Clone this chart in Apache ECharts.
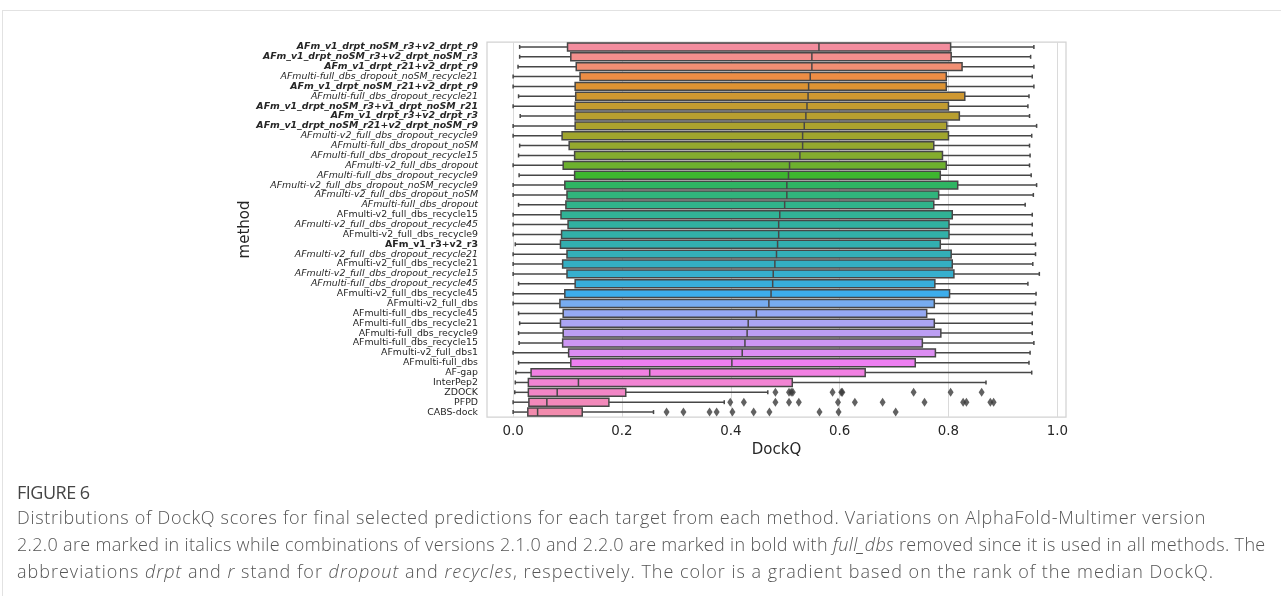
<!DOCTYPE html>
<html>
<head>
<meta charset="utf-8">
<script src="https://cdn.jsdelivr.net/npm/echarts@6/dist/echarts.min.js"></script>
<style>
  body { margin: 0; background: #fff; }
  #wrap { position: relative; width: 1281px; height: 596px; overflow: hidden; }
  #card { position: absolute; left: 2px; top: 10px; width: 1400px; height: 700px; border: 1px solid #e2e2e2; }
  #chart { position: absolute; left: 0; top: 0; width: 1281px; height: 596px; }
  .cap { position: absolute; left: 17px; white-space: nowrap; font-family: 'Open Sans', sans-serif; font-weight: 300; font-size: 18px; color: #555; }
  .fig { color: #444; font-weight: 400; letter-spacing: -0.5px; }
</style>
</head>
<body>
<div id="wrap">
  <div id="card"></div>
  <div id="chart"></div>
  <div class="cap fig" style="top:480px">FIGURE 6</div>
  <div class="cap" style="top:505px; letter-spacing:0.7px">Distributions of DockQ scores for final selected predictions for each target from each method. Variations on AlphaFold-Multimer version</div>
  <div class="cap" style="top:532px; letter-spacing:0.33px">2.2.0 are marked in italics while combinations of versions 2.1.0 and 2.2.0 are marked in bold with <i>full_dbs</i> removed since it is used in all methods. The</div>
  <div class="cap" style="top:559px; letter-spacing:1px">abbreviations <i>drpt</i> and <i>r</i> stand for <i>dropout</i> and <i>recycles</i>, respectively. The color is a gradient based on the rank of the median DockQ.</div>
</div>
<script>
// methods, ordered by median DockQ (top to bottom)
let methods = [
  'AFm_v1_drpt_noSM_r3+v2_drpt_r9',
  'AFm_v1_drpt_noSM_r3+v2_drpt_noSM_r3',
  'AFm_v1_drpt_r21+v2_drpt_r9',
  'AFmulti-full_dbs_dropout_noSM_recycle21',
  'AFm_v1_drpt_noSM_r21+v2_drpt_r9',
  'AFmulti-full_dbs_dropout_recycle21',
  'AFm_v1_drpt_noSM_r3+v1_drpt_noSM_r21',
  'AFm_v1_drpt_r3+v2_drpt_r3',
  'AFm_v1_drpt_noSM_r21+v2_drpt_noSM_r9',
  'AFmulti-v2_full_dbs_dropout_recycle9',
  'AFmulti-full_dbs_dropout_noSM',
  'AFmulti-full_dbs_dropout_recycle15',
  'AFmulti-v2_full_dbs_dropout',
  'AFmulti-full_dbs_dropout_recycle9',
  'AFmulti-v2_full_dbs_dropout_noSM_recycle9',
  'AFmulti-v2_full_dbs_dropout_noSM',
  'AFmulti-full_dbs_dropout',
  'AFmulti-v2_full_dbs_recycle15',
  'AFmulti-v2_full_dbs_dropout_recycle45',
  'AFmulti-v2_full_dbs_recycle9',
  'AFm_v1_r3+v2_r3',
  'AFmulti-v2_full_dbs_dropout_recycle21',
  'AFmulti-v2_full_dbs_recycle21',
  'AFmulti-v2_full_dbs_dropout_recycle15',
  'AFmulti-full_dbs_dropout_recycle45',
  'AFmulti-v2_full_dbs_recycle45',
  'AFmulti-v2_full_dbs',
  'AFmulti-full_dbs_recycle45',
  'AFmulti-full_dbs_recycle21',
  'AFmulti-full_dbs_recycle9',
  'AFmulti-full_dbs_recycle15',
  'AFmulti-v2_full_dbs1',
  'AFmulti-full_dbs',
  'AF-gap',
  'InterPep2',
  'ZDOCK',
  'PFPD',
  'CABS-dock'
];

let whiskerLow = [0.012, 0.012, 0.009, 0.0, 0.0, 0.010, 0.0, 0.013, 0.0, 0.0,
  0.012, 0.010, 0.0, 0.011, 0.0, 0.0, 0.010, 0.0, 0.0, 0.0,
  0.004, 0.0, 0.0, 0.0, 0.010, 0.0, 0.0, 0.010, 0.012, 0.010,
  0.011, 0.0, 0.010, 0.005, 0.004, 0.003, 0.0, 0.0];
let q1 = [0.100, 0.106, 0.116, 0.123, 0.114, 0.115, 0.114, 0.114, 0.114, 0.090,
  0.103, 0.113, 0.092, 0.113, 0.095, 0.099, 0.097, 0.088, 0.101, 0.089,
  0.087, 0.099, 0.091, 0.099, 0.114, 0.095, 0.086, 0.092, 0.087, 0.092,
  0.091, 0.102, 0.106, 0.033, 0.028, 0.028, 0.029, 0.027];
let median = [0.562, 0.549, 0.549, 0.546, 0.543, 0.542, 0.540, 0.538, 0.535, 0.532,
  0.532, 0.527, 0.508, 0.506, 0.503, 0.503, 0.499, 0.490, 0.488, 0.488,
  0.486, 0.484, 0.481, 0.478, 0.477, 0.474, 0.470, 0.447, 0.432, 0.430,
  0.426, 0.421, 0.402, 0.251, 0.120, 0.081, 0.062, 0.045];
let q3 = [0.804, 0.805, 0.825, 0.796, 0.796, 0.830, 0.800, 0.820, 0.797, 0.800,
  0.773, 0.789, 0.796, 0.785, 0.817, 0.782, 0.773, 0.807, 0.801, 0.801,
  0.785, 0.805, 0.807, 0.810, 0.775, 0.802, 0.774, 0.760, 0.774, 0.786,
  0.752, 0.776, 0.739, 0.647, 0.513, 0.207, 0.176, 0.127];
let whiskerHigh = [0.957, 0.951, 0.957, 0.954, 0.957, 0.948, 0.946, 0.949, 0.962, 0.953,
  0.949, 0.950, 0.949, 0.952, 0.962, 0.956, 0.941, 0.954, 0.954, 0.954,
  0.960, 0.960, 0.955, 0.967, 0.946, 0.961, 0.960, 0.954, 0.954, 0.954,
  0.957, 0.950, 0.948, 0.953, 0.869, 0.468, 0.388, 0.258];

let outliersZDOCK = [0.482, 0.507, 0.511, 0.514, 0.587, 0.603, 0.605, 0.736, 0.804, 0.861];
let outliersPFPD = [0.399, 0.424, 0.482, 0.507, 0.525, 0.597, 0.628, 0.679, 0.756, 0.827, 0.833, 0.877, 0.883];
let outliersCABS = [0.282, 0.313, 0.361, 0.374, 0.403, 0.442, 0.471, 0.563, 0.598, 0.703];

let xTicks = [0, 0.2, 0.4, 0.6, 0.8, 1.0];

// husl palette (seaborn style), one hue per method in rank order
const M = [[3.2406, -1.5372, -0.4986], [-0.9689, 1.8758, 0.0415], [0.0557, -0.2040, 1.0570]];
function maxChroma(L, H) {
  let hrad = H / 180 * Math.PI, sinH = Math.sin(hrad), cosH = Math.cos(hrad);
  let sub1 = Math.pow(L + 16, 3) / 1560896;
  let sub2 = sub1 > 0.008856 ? sub1 : L / 903.3;
  let result = Infinity;
  for (let [m1, m2, m3] of M) {
    let top = (0.99915 * m1 + 1.05122 * m2 + 1.14460 * m3) * sub2;
    let rbottom = 0.86330 * m3 - 0.17266 * m2;
    let lbottom = 0.12949 * m3 - 0.38848 * m1;
    let bottom = (rbottom * sinH + lbottom * cosH) * sub2;
    for (let t of [0, 1]) {
      let C = L * (top - 1.05122 * t) / (bottom + 0.17266 * sinH * t);
      if (C > 0 && C < result) result = C;
    }
  }
  return result;
}
function huslToRgb(H, S, L) {
  let C = maxChroma(L, H) / 100 * S;
  let hrad = H / 180 * Math.PI;
  let U = Math.cos(hrad) * C, V = Math.sin(hrad) * C;
  let t = (L + 16) / 116;
  let varY = Math.pow(t, 3) > 0.008856 ? Math.pow(t, 3) : (116 * t - 16) / 903.3;
  let varU = U / (13 * L) + 0.19784, varV = V / (13 * L) + 0.46834;
  let Y = varY;
  let X = -(9 * Y * varU) / ((varU - 4) * varV - varU * varV);
  let Z = (9 * Y - 15 * varV * Y - varV * X) / (3 * varV);
  return M.map(r => {
    let c = r[0] * X + r[1] * Y + r[2] * Z;
    c = c <= 0.0031308 ? 12.92 * c : 1.055 * Math.pow(c, 1 / 2.4) - 0.055;
    return Math.min(1, Math.max(0, c));
  });
}
function desaturate([r, g, b], prop) {
  let mx = Math.max(r, g, b), mn = Math.min(r, g, b);
  let l = (mx + mn) / 2, d = mx - mn;
  if (d === 0) return [r, g, b];
  let s = l <= 0.5 ? d / (mx + mn) : d / (2 - mx - mn);
  let c2 = (1 - Math.abs(2 * l - 1)) * s * prop;
  let mn2 = l - c2 / 2;
  return [r, g, b].map(v => mn2 + (v - mn) / d * c2);
}
function toHex(rgb) {
  return '#' + rgb.map(v => Math.round(v * 255).toString(16).padStart(2, '0')).join('');
}
let n = methods.length;
let colors = methods.map((m, i) => {
  let h = ((i / n + 0.01) % 1) * 359;
  return toHex(desaturate(huslToRgb(h, 95, 69), 0.85));
});

let edge = '#474747';

let boxData = methods.map((m, i) => [i, whiskerLow[i], q1[i], median[i], q3[i], whiskerHigh[i]]);
let outlierData = []
  .concat(outliersZDOCK.map(v => [v, 'ZDOCK']))
  .concat(outliersPFPD.map(v => [v, 'PFPD']))
  .concat(outliersCABS.map(v => [v, 'CABS-dock']));

function renderBox(params, api) {
  let cat = api.value(0);
  let lo = api.coord([api.value(1), cat]);
  let b1 = api.coord([api.value(2), cat]);
  let md = api.coord([api.value(3), cat]);
  let b3 = api.coord([api.value(4), cat]);
  let hi = api.coord([api.value(5), cat]);
  let h = api.size([0, 1])[1] * 0.8;
  let y = lo[1];
  let line = { stroke: edge, lineWidth: 1.5 };
  return {
    type: 'group',
    children: [
      { type: 'line', shape: { x1: lo[0], y1: y, x2: b1[0], y2: y }, style: line },
      { type: 'line', shape: { x1: b3[0], y1: y, x2: hi[0], y2: y }, style: line },
      { type: 'line', shape: { x1: lo[0], y1: y - 2, x2: lo[0], y2: y + 2 }, style: line },
      { type: 'line', shape: { x1: hi[0], y1: y - 2, x2: hi[0], y2: y + 2 }, style: line },
      { type: 'rect', shape: { x: b1[0], y: y - h / 2, width: b3[0] - b1[0], height: h },
        style: { fill: colors[params.dataIndex], stroke: edge, lineWidth: 1.5 } },
      { type: 'line', shape: { x1: md[0], y1: y - h / 2, x2: md[0], y2: y + h / 2 }, style: line }
    ]
  };
}

function labelFmt(name) {
  let bold = name.startsWith('AFm_');
  let italic = name.includes('dropout') || name.includes('drpt');
  if (bold && italic) return `{bi|${name}}`;
  if (bold) return `{b|${name}}`;
  if (italic) return `{i|${name}}`;
  return name;
}

let chart = echarts.init(document.getElementById('chart'));
let labelFont = { fontFamily: 'DejaVu Sans', fontSize: 9.4, color: '#262626' };
let options = {
  animation: false,
  grid: { left: 487, right: 215, top: 42, bottom: 179, show: true, borderColor: '#d2d2d2', borderWidth: 1.25 },
  xAxis: {
    type: 'value',
    min: -0.048,
    max: 1.016,
    name: 'DockQ',
    nameLocation: 'middle',
    nameGap: 26,
    nameTextStyle: { fontFamily: 'DejaVu Sans', fontSize: 15, color: '#262626' },
    axisLine: { show: false },
    axisTick: { show: false, customValues: xTicks },
    axisLabel: { customValues: xTicks, margin: 8, fontFamily: 'DejaVu Sans', fontSize: 13.4, color: '#262626',
      formatter: v => v.toFixed(1) },
    splitLine: { show: true, lineStyle: { color: '#dadada', width: 1 } }
  },
  yAxis: {
    type: 'category',
    data: methods,
    inverse: true,
    name: 'method',
    nameLocation: 'middle',
    nameGap: 234,
    nameTextStyle: { fontFamily: 'DejaVu Sans', fontSize: 15, color: '#262626' },
    axisLine: { show: false },
    axisTick: { show: false },
    splitLine: { show: false },
    axisLabel: Object.assign({
      interval: 0, margin: 9, formatter: labelFmt,
      rich: {
        b: Object.assign({ fontWeight: 'bold' }, labelFont),
        i: Object.assign({ fontStyle: 'italic' }, labelFont),
        bi: Object.assign({ fontWeight: 'bold', fontStyle: 'italic' }, labelFont)
      }
    }, labelFont)
  },
  series: [
    {
      type: 'custom',
      renderItem: renderBox,
      encode: { y: 0, x: [1, 2, 3, 4, 5] },
      data: boxData
    },
    {
      type: 'scatter',
      symbol: 'diamond',
      symbolSize: [6, 9],
      itemStyle: { color: '#3a3a3a' },
      data: outlierData
    }
  ]
};
chart.setOption(options);
</script>
</body>
</html>
